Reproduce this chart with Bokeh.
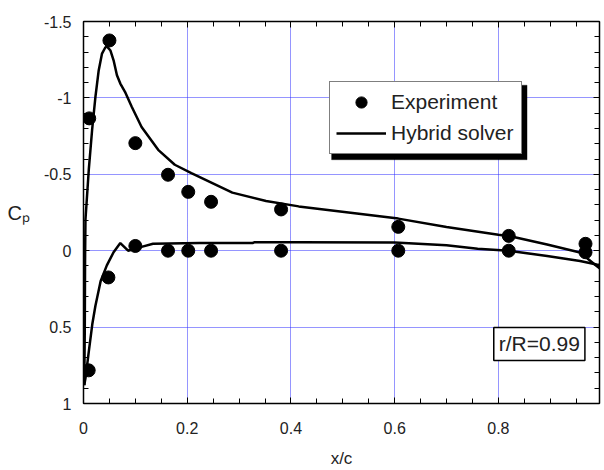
from bokeh.plotting import figure
from bokeh.models import (Range1d, LinearAxis, SingleIntervalTicker, CustomJSTickFormatter,
                          Legend, LegendItem, Label, BoxAnnotation, CustomLabelingPolicy)
from bokeh.embed import file_html
from bokeh.resources import INLINE

# Experimental data (x/c, Cp)
exp_x = [0.011, 0.050, 0.100, 0.163, 0.202, 0.246, 0.381, 0.607, 0.820, 0.968,
         0.010, 0.048, 0.100, 0.163, 0.202, 0.246, 0.381, 0.607, 0.820, 0.968]
exp_cp = [-0.866, -1.376, -0.704, -0.497, -0.385, -0.32, -0.27, -0.156, -0.097, -0.045,
          0.783, 0.175, -0.031, 0.0, 0.0, 0.0, 0.0, 0.0, 0.0, 0.01]

# Hybrid solver, suction side
upper_x = [0.0015, 0.0025, 0.003, 0.0038, 0.0102, 0.0166, 0.023, 0.0293, 0.0357, 0.042,
           0.045, 0.052, 0.058, 0.0645, 0.071, 0.080, 0.093, 0.112, 0.144, 0.176,
           0.208, 0.287, 0.352, 0.415, 0.511, 0.607, 0.700, 0.800, 0.823, 0.894,
           0.9575, 0.9895, 0.997]
upper_cp = [0.88, 0.50, 0.07, -0.204, -0.53, -0.79, -1.007, -1.18, -1.29, -1.33,
            -1.337, -1.31, -1.246, -1.148, -1.094, -1.04, -0.942, -0.81, -0.66, -0.5625,
            -0.508, -0.38, -0.325, -0.29, -0.25, -0.21, -0.155, -0.105, -0.095, -0.04,
            0.012, 0.10, 0.12]

# Hybrid solver, pressure side
lower_x = [0.0015, 0.004, 0.0102, 0.017, 0.023, 0.033, 0.045, 0.058, 0.071, 0.086,
           0.112, 0.134, 0.224, 0.326, 0.330, 0.415, 0.600, 0.700, 0.760, 0.820,
           0.894, 0.9575, 0.9895, 0.997]
lower_cp = [0.88, 0.83, 0.66, 0.48, 0.36, 0.20, 0.096, 0.01, -0.05, 0.0,
            -0.025, -0.045, -0.05, -0.05, -0.056, -0.056, -0.053, -0.035, -0.012, 0.0,
            0.035, 0.067, 0.09, 0.095]

X_START, X_END = 0.0, 0.995
Y_BOTTOM, Y_TOP = 1.0, -1.5

FONT = "Liberation Sans"
W, H = 604, 470
ML, MR, MT, MB = 83, 1, 21, 65
FRAME_W = W - ML - MR
FRAME_H = H - MT - MB

p = figure(width=W, height=H, output_backend="svg", toolbar_location=None,
           x_range=Range1d(X_START, X_END), y_range=Range1d(Y_BOTTOM, Y_TOP),
           min_border_left=ML, min_border_right=MR, min_border_top=MT, min_border_bottom=MB,
           x_axis_label="x/c", y_axis_label="C\u209a")
p.background_fill_color = "white"
p.border_fill_color = "white"
p.outline_line_color = "black"
p.outline_line_width = 1

fmt_code = "return String(parseFloat(tick.toFixed(3)));"
hide_code = "const all = [...indices]; for (const i of all) { indices.unset(i) } return indices;"


def style_axis(ax, xaxis, labels=True):
    ax.ticker = SingleIntervalTicker(interval=0.2, num_minor_ticks=4) if xaxis else \
        SingleIntervalTicker(interval=0.5, num_minor_ticks=5)
    ax.axis_line_color = "black"
    ax.axis_line_width = 1.5
    ax.major_tick_in = 6
    ax.major_tick_out = 0
    ax.minor_tick_in = 5
    ax.minor_tick_out = 0
    ax.major_tick_line_color = "black"
    ax.minor_tick_line_color = "black"
    ax.major_tick_line_width = 1
    ax.minor_tick_line_width = 1
    ax.formatter = CustomJSTickFormatter(code=fmt_code)
    ax.major_label_text_font = FONT
    ax.major_label_text_color = "#222222"
    if labels:
        ax.major_label_text_font_size = "16px"
        ax.major_label_standoff = 18 if xaxis else 12
    else:
        ax.major_label_text_font_size = "1px"
        ax.major_label_standoff = 0
        ax.major_label_policy = CustomLabelingPolicy(code=hide_code)


style_axis(p.xaxis[0], True)
style_axis(p.yaxis[0], False)
xa = p.xaxis[0]
xa.axis_label_text_font = FONT
xa.axis_label_text_font_size = "17px"
xa.axis_label_text_font_style = "normal"
xa.axis_label_text_color = "#222222"
xa.axis_label_standoff = 12
ya = p.yaxis[0]
ya.axis_label_orientation = "horizontal"
ya.axis_label_text_font = FONT
ya.axis_label_text_font_size = "20px"
ya.axis_label_text_font_style = "normal"
ya.axis_label_text_color = "#222222"
ya.axis_label_standoff = 11

top_ax = LinearAxis()
style_axis(top_ax, True, False)
p.add_layout(top_ax, "above")
right_ax = LinearAxis()
style_axis(right_ax, False, False)
p.add_layout(right_ax, "right")

for g in (p.xgrid[0], p.ygrid[0]):
    g.grid_line_color = "#2a2aff"
    g.grid_line_dash = "1 1"
    g.grid_line_width = 1

lu = p.line(upper_x, upper_cp, line_color="black", line_width=2.5)
p.line(lower_x, lower_cp, line_color="black", line_width=2.5)
sc = p.scatter(exp_x, exp_cp, size=13, fill_color="black", line_color="black")

# legend with drop shadow (positions in px from the frame's bottom-left corner)
px_x = FRAME_W / (X_END - X_START)
px_y = FRAME_H / (Y_BOTTOM - Y_TOP)
LEG_X, LEG_Y, LEG_W, LEG_H, SH = 246, 249, 197, 75, 4
shadow = BoxAnnotation(left=(LEG_X + SH) / px_x, right=(LEG_X + LEG_W + SH) / px_x,
                       bottom=Y_BOTTOM - (LEG_Y - SH) / px_y,
                       top=Y_BOTTOM - (LEG_Y + LEG_H - SH) / px_y,
                       fill_color="black", fill_alpha=1, line_color="black")
p.add_layout(shadow)

legend = Legend(items=[LegendItem(label="Experiment", renderers=[sc]),
                       LegendItem(label="Hybrid solver", renderers=[lu])],
                location=(LEG_X, LEG_Y), orientation="vertical",
                glyph_width=50, glyph_height=28, label_height=28, label_width=124,
                label_standoff=5, padding=6, spacing=3, margin=0,
                border_line_color="black", border_line_width=1.5,
                background_fill_color="white", background_fill_alpha=1,
                label_text_font=FONT, label_text_font_size="21px",
                label_text_color="#222222")
p.add_layout(legend)

p.add_layout(Label(x=0.879, y=0.61, text="r/R=0.99", text_align="center",
                   text_baseline="middle", text_font=FONT, text_font_size="21px",
                   text_color="#222222", border_line_color="black", border_line_width=1.5,
                   background_fill_color="white", padding=5))

open("out.html", "w").write(file_html(p, INLINE))
